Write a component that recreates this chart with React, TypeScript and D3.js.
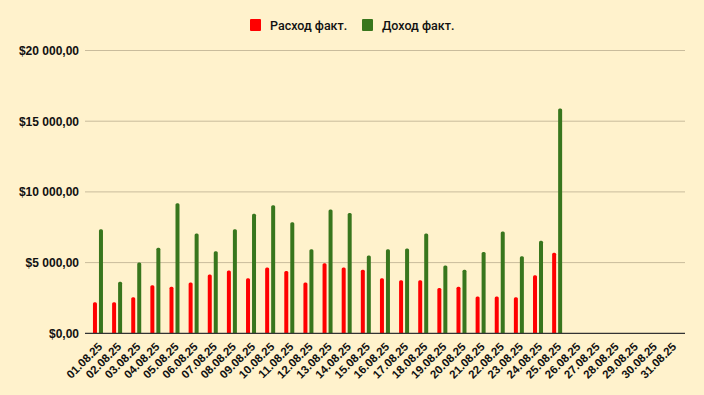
import React, { useEffect, useRef } from 'react';
import * as d3 from 'd3';

const dates = [
  '01.08.25', '02.08.25', '03.08.25', '04.08.25', '05.08.25', '06.08.25', '07.08.25', '08.08.25',
  '09.08.25', '10.08.25', '11.08.25', '12.08.25', '13.08.25', '14.08.25', '15.08.25', '16.08.25',
  '17.08.25', '18.08.25', '19.08.25', '20.08.25', '21.08.25', '22.08.25', '23.08.25', '24.08.25',
  '25.08.25', '26.08.25', '27.08.25', '28.08.25', '29.08.25', '30.08.25', '31.08.25',
];

const expense = [
  2200, 2200, 2550, 3400, 3300, 3600, 4150, 4450, 3900, 4650, 4400, 3600, 4950,
  4650, 4500, 3900, 3750, 3750, 3200, 3300, 2600, 2600, 2550, 4100, 5700,
];

const income = [
  7350, 3650, 5000, 6050, 9200, 7050, 5800, 7350, 8450, 9050, 7850, 5950, 8750,
  8500, 5500, 5950, 6000, 7050, 4800, 4500, 5750, 7200, 5450, 6550, 15900,
];

const series = ['Расход факт.', 'Доход факт.'];
const colors = ['#ff0000', '#38761d'];
const yTicks = [0, 5000, 10000, 15000, 20000];

const fmt = (v: number) => {
  const int = Math.round(v).toString().replace(/\B(?=(\d{3})+(?!\d))/g, ' ');
  return `$${int},00`;
};

export default function App() {
  const svgRef = useRef<SVGSVGElement>(null);

  useEffect(() => {
    if (!svgRef.current) return;
    const svg = d3.select(svgRef.current);
    svg.selectAll('*').remove();

    const width = 704;
    const height = 395;
    const plot = { left: 85, right: 685, top: 50.5, bottom: 333.3 };

    svg.append('rect').attr('width', width).attr('height', height).attr('fill', '#fff2cc');

    const x0 = d3.scaleBand().domain(dates).range([88.4, 681.5]).padding(0);
    const bw = x0.bandwidth();
    const x1 = d3.scaleBand().domain(series).range([bw / 2 - 5, bw / 2 + 5]).paddingInner(1 / 3).paddingOuter(0);
    const y = d3.scaleLinear().domain([0, 20000]).range([plot.bottom, plot.top]);

    // grid
    svg.append('g')
      .selectAll('line')
      .data(yTicks.filter(t => t > 0))
      .enter()
      .append('line')
      .attr('x1', plot.left)
      .attr('x2', plot.right)
      .attr('y1', d => y(d))
      .attr('y2', d => y(d))
      .attr('stroke', '#c9bc9c')
      .attr('stroke-width', 1);

    // y labels
    svg.append('g')
      .selectAll('text')
      .data(yTicks)
      .enter()
      .append('text')
      .attr('x', 79)
      .attr('y', d => y(d))
      .attr('dy', '0.36em')
      .attr('text-anchor', 'end')
      .attr('font-family', 'Liberation Sans, Arial, sans-serif')
      .attr('font-weight', 'bold')
      .attr('font-size', 12)
      .attr('fill', '#111')
      .text(d => fmt(d));

    // bars, rounded tops
    const barPath = (bx: number, by: number, w: number, h: number) => {
      const r = Math.min(1.5, h);
      return `M${bx},${by + h}V${by + r}Q${bx},${by} ${bx + r},${by}H${bx + w - r}Q${bx + w},${by} ${bx + w},${by + r}V${by + h}Z`;
    };

    const allSeries = [expense, income];
    allSeries.forEach((vals, si) => {
      svg.append('g')
        .selectAll('path')
        .data(vals)
        .enter()
        .append('path')
        .attr('d', (v, i) => {
          const bx = x0(dates[i])! + x1(series[si])!;
          const by = y(v);
          return barPath(bx, by, x1.bandwidth(), plot.bottom - by);
        })
        .attr('fill', colors[si]);
    });

    // baseline
    svg.append('line')
      .attr('x1', plot.left)
      .attr('x2', plot.right)
      .attr('y1', plot.bottom)
      .attr('y2', plot.bottom)
      .attr('stroke', '#333')
      .attr('stroke-width', 1.2);

    // x labels
    svg.append('g')
      .selectAll('text')
      .data(dates)
      .enter()
      .append('text')
      .attr('transform', d => `translate(${x0(d)! + bw / 2 + 5},347.5) rotate(-45)`)
      .attr('text-anchor', 'end')
      .attr('font-family', 'Liberation Sans, Arial, sans-serif')
      .attr('font-weight', 'bold')
      .attr('font-size', 11.5)
      .attr('fill', '#111')
      .text(d => d);

    // legend
    const legendX = [250, 362];
    series.forEach((s, i) => {
      svg.append('rect')
        .attr('x', legendX[i])
        .attr('y', 19)
        .attr('width', 11)
        .attr('height', 12)
        .attr('rx', 1)
        .attr('fill', colors[i]);
      svg.append('text')
        .attr('x', legendX[i] + 20)
        .attr('y', 29.5)
        .attr('font-family', 'Roboto, sans-serif')
        .attr('font-weight', 500)
        .attr('font-size', 12.5)
        .attr('fill', '#111')
        .text(s);
    });
  }, []);

  return (
    <svg
      ref={svgRef}
      width={704}
      height={395}
      style={{ position: 'absolute', left: 0, top: 0, display: 'block' }}
    />
  );
}
